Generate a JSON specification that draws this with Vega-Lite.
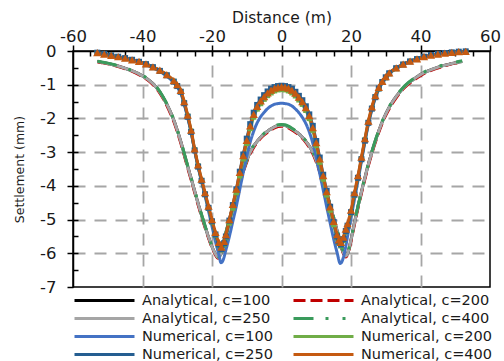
{
"$schema":"https://vega.github.io/schema/vega-lite/v6.json",
"width":417,"height":236,"autosize":"none",
"padding":{"left":73,"top":51,"right":14,"bottom":74},
"background":"white",
"config":{"font":"DejaVu Sans","view":{"stroke":"#000","strokeWidth":1.5},
"axis":{"labelFont":"DejaVu Sans","titleFont":"DejaVu Sans","labelColor":"#1a1a1a","titleColor":"#1a1a1a","titleFontWeight":"normal","domainColor":"#000","tickColor":"#000","domainWidth":1.5,"tickWidth":1.5}},
"data":{"values":[
{"s":"Analytical, c=100","x":-53,"y":-0.31},{"s":"Analytical, c=100","x":-52,"y":-0.33},{"s":"Analytical, c=100","x":-50,"y":-0.37},{"s":"Analytical, c=100","x":-48,"y":-0.42},{"s":"Analytical, c=100","x":-46,"y":-0.48},{"s":"Analytical, c=100","x":-44,"y":-0.55},{"s":"Analytical, c=100","x":-42,"y":-0.63},{"s":"Analytical, c=100","x":-40,"y":-0.74},{"s":"Analytical, c=100","x":-38,"y":-0.88},{"s":"Analytical, c=100","x":-37,"y":-0.97},{"s":"Analytical, c=100","x":-36,"y":-1.08},{"s":"Analytical, c=100","x":-35,"y":-1.22},{"s":"Analytical, c=100","x":-34,"y":-1.39},{"s":"Analytical, c=100","x":-33,"y":-1.58},{"s":"Analytical, c=100","x":-32,"y":-1.8},{"s":"Analytical, c=100","x":-31,"y":-2.05},{"s":"Analytical, c=100","x":-30,"y":-2.35},{"s":"Analytical, c=100","x":-29,"y":-2.68},{"s":"Analytical, c=100","x":-28,"y":-3.05},{"s":"Analytical, c=100","x":-27,"y":-3.42},{"s":"Analytical, c=100","x":-26,"y":-3.78},{"s":"Analytical, c=100","x":-25,"y":-4.15},{"s":"Analytical, c=100","x":-24,"y":-4.52},{"s":"Analytical, c=100","x":-23,"y":-4.87},{"s":"Analytical, c=100","x":-22,"y":-5.2},{"s":"Analytical, c=100","x":-21,"y":-5.52},{"s":"Analytical, c=100","x":-20,"y":-5.8},{"s":"Analytical, c=100","x":-19,"y":-6.02},{"s":"Analytical, c=100","x":-18.3,"y":-6.12},{"s":"Analytical, c=100","x":-17.5,"y":-6.03},{"s":"Analytical, c=100","x":-17,"y":-5.82},{"s":"Analytical, c=100","x":-16,"y":-5.4},{"s":"Analytical, c=100","x":-15,"y":-5.0},{"s":"Analytical, c=100","x":-14,"y":-4.62},{"s":"Analytical, c=100","x":-13,"y":-4.25},{"s":"Analytical, c=100","x":-12,"y":-3.9},{"s":"Analytical, c=100","x":-11,"y":-3.55},{"s":"Analytical, c=100","x":-10,"y":-3.25},{"s":"Analytical, c=100","x":-9,"y":-3.0},{"s":"Analytical, c=100","x":-8,"y":-2.82},{"s":"Analytical, c=100","x":-7,"y":-2.68},{"s":"Analytical, c=100","x":-6,"y":-2.56},{"s":"Analytical, c=100","x":-5,"y":-2.46},{"s":"Analytical, c=100","x":-4,"y":-2.38},{"s":"Analytical, c=100","x":-3,"y":-2.31},{"s":"Analytical, c=100","x":-2,"y":-2.25},{"s":"Analytical, c=100","x":-1,"y":-2.21},{"s":"Analytical, c=100","x":0,"y":-2.2},{"s":"Analytical, c=100","x":1,"y":-2.21},{"s":"Analytical, c=100","x":2,"y":-2.25},{"s":"Analytical, c=100","x":3,"y":-2.31},{"s":"Analytical, c=100","x":4,"y":-2.38},{"s":"Analytical, c=100","x":5,"y":-2.46},{"s":"Analytical, c=100","x":6,"y":-2.56},{"s":"Analytical, c=100","x":7,"y":-2.68},{"s":"Analytical, c=100","x":8,"y":-2.82},{"s":"Analytical, c=100","x":9,"y":-3.0},{"s":"Analytical, c=100","x":10,"y":-3.25},{"s":"Analytical, c=100","x":11,"y":-3.55},{"s":"Analytical, c=100","x":12,"y":-3.88},{"s":"Analytical, c=100","x":13,"y":-4.22},{"s":"Analytical, c=100","x":14,"y":-4.58},{"s":"Analytical, c=100","x":15,"y":-4.95},{"s":"Analytical, c=100","x":16,"y":-5.33},{"s":"Analytical, c=100","x":17,"y":-5.7},{"s":"Analytical, c=100","x":17.8,"y":-5.98},{"s":"Analytical, c=100","x":18.5,"y":-6.08},{"s":"Analytical, c=100","x":19.2,"y":-5.95},{"s":"Analytical, c=100","x":20,"y":-5.6},{"s":"Analytical, c=100","x":21,"y":-5.1},{"s":"Analytical, c=100","x":22,"y":-4.62},{"s":"Analytical, c=100","x":23,"y":-4.18},{"s":"Analytical, c=100","x":24,"y":-3.76},{"s":"Analytical, c=100","x":25,"y":-3.36},{"s":"Analytical, c=100","x":26,"y":-3.0},{"s":"Analytical, c=100","x":27,"y":-2.67},{"s":"Analytical, c=100","x":28,"y":-2.37},{"s":"Analytical, c=100","x":29,"y":-2.1},{"s":"Analytical, c=100","x":30,"y":-1.87},{"s":"Analytical, c=100","x":31,"y":-1.67},{"s":"Analytical, c=100","x":32,"y":-1.5},{"s":"Analytical, c=100","x":33,"y":-1.35},{"s":"Analytical, c=100","x":34,"y":-1.22},{"s":"Analytical, c=100","x":35,"y":-1.1},{"s":"Analytical, c=100","x":36,"y":-1.0},{"s":"Analytical, c=100","x":38,"y":-0.84},{"s":"Analytical, c=100","x":40,"y":-0.7},{"s":"Analytical, c=100","x":42,"y":-0.6},{"s":"Analytical, c=100","x":44,"y":-0.52},{"s":"Analytical, c=100","x":46,"y":-0.45},{"s":"Analytical, c=100","x":48,"y":-0.4},{"s":"Analytical, c=100","x":50,"y":-0.35},{"s":"Analytical, c=100","x":52,"y":-0.31},
{"s":"Analytical, c=200","x":-53,"y":-0.32},{"s":"Analytical, c=200","x":-52,"y":-0.34},{"s":"Analytical, c=200","x":-50,"y":-0.38},{"s":"Analytical, c=200","x":-48,"y":-0.43},{"s":"Analytical, c=200","x":-46,"y":-0.49},{"s":"Analytical, c=200","x":-44,"y":-0.56},{"s":"Analytical, c=200","x":-42,"y":-0.65},{"s":"Analytical, c=200","x":-40,"y":-0.76},{"s":"Analytical, c=200","x":-38,"y":-0.9},{"s":"Analytical, c=200","x":-37,"y":-1.0},{"s":"Analytical, c=200","x":-36,"y":-1.11},{"s":"Analytical, c=200","x":-35,"y":-1.25},{"s":"Analytical, c=200","x":-34,"y":-1.42},{"s":"Analytical, c=200","x":-33,"y":-1.62},{"s":"Analytical, c=200","x":-32,"y":-1.84},{"s":"Analytical, c=200","x":-31,"y":-2.09},{"s":"Analytical, c=200","x":-30,"y":-2.39},{"s":"Analytical, c=200","x":-29,"y":-2.72},{"s":"Analytical, c=200","x":-28,"y":-3.09},{"s":"Analytical, c=200","x":-27,"y":-3.46},{"s":"Analytical, c=200","x":-26,"y":-3.82},{"s":"Analytical, c=200","x":-25,"y":-4.19},{"s":"Analytical, c=200","x":-24,"y":-4.56},{"s":"Analytical, c=200","x":-23,"y":-4.91},{"s":"Analytical, c=200","x":-22,"y":-5.24},{"s":"Analytical, c=200","x":-21,"y":-5.55},{"s":"Analytical, c=200","x":-20,"y":-5.83},{"s":"Analytical, c=200","x":-19,"y":-6.05},{"s":"Analytical, c=200","x":-18.3,"y":-6.15},{"s":"Analytical, c=200","x":-17.5,"y":-6.06},{"s":"Analytical, c=200","x":-17,"y":-5.86},{"s":"Analytical, c=200","x":-16,"y":-5.44},{"s":"Analytical, c=200","x":-15,"y":-5.04},{"s":"Analytical, c=200","x":-14,"y":-4.66},{"s":"Analytical, c=200","x":-13,"y":-4.29},{"s":"Analytical, c=200","x":-12,"y":-3.94},{"s":"Analytical, c=200","x":-11,"y":-3.59},{"s":"Analytical, c=200","x":-10,"y":-3.29},{"s":"Analytical, c=200","x":-9,"y":-3.04},{"s":"Analytical, c=200","x":-8,"y":-2.86},{"s":"Analytical, c=200","x":-7,"y":-2.71},{"s":"Analytical, c=200","x":-6,"y":-2.59},{"s":"Analytical, c=200","x":-5,"y":-2.49},{"s":"Analytical, c=200","x":-4,"y":-2.41},{"s":"Analytical, c=200","x":-3,"y":-2.34},{"s":"Analytical, c=200","x":-2,"y":-2.28},{"s":"Analytical, c=200","x":-1,"y":-2.24},{"s":"Analytical, c=200","x":0,"y":-2.23},{"s":"Analytical, c=200","x":1,"y":-2.24},{"s":"Analytical, c=200","x":2,"y":-2.28},{"s":"Analytical, c=200","x":3,"y":-2.34},{"s":"Analytical, c=200","x":4,"y":-2.41},{"s":"Analytical, c=200","x":5,"y":-2.49},{"s":"Analytical, c=200","x":6,"y":-2.59},{"s":"Analytical, c=200","x":7,"y":-2.71},{"s":"Analytical, c=200","x":8,"y":-2.86},{"s":"Analytical, c=200","x":9,"y":-3.04},{"s":"Analytical, c=200","x":10,"y":-3.29},{"s":"Analytical, c=200","x":11,"y":-3.59},{"s":"Analytical, c=200","x":12,"y":-3.92},{"s":"Analytical, c=200","x":13,"y":-4.26},{"s":"Analytical, c=200","x":14,"y":-4.62},{"s":"Analytical, c=200","x":15,"y":-4.99},{"s":"Analytical, c=200","x":16,"y":-5.37},{"s":"Analytical, c=200","x":17,"y":-5.74},{"s":"Analytical, c=200","x":17.8,"y":-6.01},{"s":"Analytical, c=200","x":18.5,"y":-6.11},{"s":"Analytical, c=200","x":19.2,"y":-5.98},{"s":"Analytical, c=200","x":20,"y":-5.64},{"s":"Analytical, c=200","x":21,"y":-5.14},{"s":"Analytical, c=200","x":22,"y":-4.66},{"s":"Analytical, c=200","x":23,"y":-4.22},{"s":"Analytical, c=200","x":24,"y":-3.8},{"s":"Analytical, c=200","x":25,"y":-3.4},{"s":"Analytical, c=200","x":26,"y":-3.04},{"s":"Analytical, c=200","x":27,"y":-2.71},{"s":"Analytical, c=200","x":28,"y":-2.41},{"s":"Analytical, c=200","x":29,"y":-2.14},{"s":"Analytical, c=200","x":30,"y":-1.91},{"s":"Analytical, c=200","x":31,"y":-1.71},{"s":"Analytical, c=200","x":32,"y":-1.54},{"s":"Analytical, c=200","x":33,"y":-1.39},{"s":"Analytical, c=200","x":34,"y":-1.25},{"s":"Analytical, c=200","x":35,"y":-1.13},{"s":"Analytical, c=200","x":36,"y":-1.03},{"s":"Analytical, c=200","x":38,"y":-0.87},{"s":"Analytical, c=200","x":40,"y":-0.73},{"s":"Analytical, c=200","x":42,"y":-0.62},{"s":"Analytical, c=200","x":44,"y":-0.54},{"s":"Analytical, c=200","x":46,"y":-0.47},{"s":"Analytical, c=200","x":48,"y":-0.41},{"s":"Analytical, c=200","x":50,"y":-0.36},{"s":"Analytical, c=200","x":52,"y":-0.32},
{"s":"Analytical, c=250","x":-53,"y":-0.31},{"s":"Analytical, c=250","x":-52,"y":-0.33},{"s":"Analytical, c=250","x":-50,"y":-0.37},{"s":"Analytical, c=250","x":-48,"y":-0.42},{"s":"Analytical, c=250","x":-46,"y":-0.48},{"s":"Analytical, c=250","x":-44,"y":-0.55},{"s":"Analytical, c=250","x":-42,"y":-0.63},{"s":"Analytical, c=250","x":-40,"y":-0.74},{"s":"Analytical, c=250","x":-38,"y":-0.88},{"s":"Analytical, c=250","x":-37,"y":-0.97},{"s":"Analytical, c=250","x":-36,"y":-1.08},{"s":"Analytical, c=250","x":-35,"y":-1.22},{"s":"Analytical, c=250","x":-34,"y":-1.39},{"s":"Analytical, c=250","x":-33,"y":-1.58},{"s":"Analytical, c=250","x":-32,"y":-1.8},{"s":"Analytical, c=250","x":-31,"y":-2.05},{"s":"Analytical, c=250","x":-30,"y":-2.35},{"s":"Analytical, c=250","x":-29,"y":-2.68},{"s":"Analytical, c=250","x":-28,"y":-3.05},{"s":"Analytical, c=250","x":-27,"y":-3.42},{"s":"Analytical, c=250","x":-26,"y":-3.78},{"s":"Analytical, c=250","x":-25,"y":-4.15},{"s":"Analytical, c=250","x":-24,"y":-4.52},{"s":"Analytical, c=250","x":-23,"y":-4.87},{"s":"Analytical, c=250","x":-22,"y":-5.2},{"s":"Analytical, c=250","x":-21,"y":-5.52},{"s":"Analytical, c=250","x":-20,"y":-5.8},{"s":"Analytical, c=250","x":-19,"y":-6.02},{"s":"Analytical, c=250","x":-18.3,"y":-6.12},{"s":"Analytical, c=250","x":-17.5,"y":-6.03},{"s":"Analytical, c=250","x":-17,"y":-5.82},{"s":"Analytical, c=250","x":-16,"y":-5.4},{"s":"Analytical, c=250","x":-15,"y":-5.0},{"s":"Analytical, c=250","x":-14,"y":-4.62},{"s":"Analytical, c=250","x":-13,"y":-4.25},{"s":"Analytical, c=250","x":-12,"y":-3.9},{"s":"Analytical, c=250","x":-11,"y":-3.55},{"s":"Analytical, c=250","x":-10,"y":-3.25},{"s":"Analytical, c=250","x":-9,"y":-3.0},{"s":"Analytical, c=250","x":-8,"y":-2.82},{"s":"Analytical, c=250","x":-7,"y":-2.68},{"s":"Analytical, c=250","x":-6,"y":-2.56},{"s":"Analytical, c=250","x":-5,"y":-2.46},{"s":"Analytical, c=250","x":-4,"y":-2.38},{"s":"Analytical, c=250","x":-3,"y":-2.31},{"s":"Analytical, c=250","x":-2,"y":-2.25},{"s":"Analytical, c=250","x":-1,"y":-2.21},{"s":"Analytical, c=250","x":0,"y":-2.2},{"s":"Analytical, c=250","x":1,"y":-2.21},{"s":"Analytical, c=250","x":2,"y":-2.25},{"s":"Analytical, c=250","x":3,"y":-2.31},{"s":"Analytical, c=250","x":4,"y":-2.38},{"s":"Analytical, c=250","x":5,"y":-2.46},{"s":"Analytical, c=250","x":6,"y":-2.56},{"s":"Analytical, c=250","x":7,"y":-2.68},{"s":"Analytical, c=250","x":8,"y":-2.82},{"s":"Analytical, c=250","x":9,"y":-3.0},{"s":"Analytical, c=250","x":10,"y":-3.25},{"s":"Analytical, c=250","x":11,"y":-3.55},{"s":"Analytical, c=250","x":12,"y":-3.88},{"s":"Analytical, c=250","x":13,"y":-4.22},{"s":"Analytical, c=250","x":14,"y":-4.58},{"s":"Analytical, c=250","x":15,"y":-4.95},{"s":"Analytical, c=250","x":16,"y":-5.33},{"s":"Analytical, c=250","x":17,"y":-5.7},{"s":"Analytical, c=250","x":17.8,"y":-5.98},{"s":"Analytical, c=250","x":18.5,"y":-6.08},{"s":"Analytical, c=250","x":19.2,"y":-5.95},{"s":"Analytical, c=250","x":20,"y":-5.6},{"s":"Analytical, c=250","x":21,"y":-5.1},{"s":"Analytical, c=250","x":22,"y":-4.62},{"s":"Analytical, c=250","x":23,"y":-4.18},{"s":"Analytical, c=250","x":24,"y":-3.76},{"s":"Analytical, c=250","x":25,"y":-3.36},{"s":"Analytical, c=250","x":26,"y":-3.0},{"s":"Analytical, c=250","x":27,"y":-2.67},{"s":"Analytical, c=250","x":28,"y":-2.37},{"s":"Analytical, c=250","x":29,"y":-2.1},{"s":"Analytical, c=250","x":30,"y":-1.87},{"s":"Analytical, c=250","x":31,"y":-1.67},{"s":"Analytical, c=250","x":32,"y":-1.5},{"s":"Analytical, c=250","x":33,"y":-1.35},{"s":"Analytical, c=250","x":34,"y":-1.22},{"s":"Analytical, c=250","x":35,"y":-1.1},{"s":"Analytical, c=250","x":36,"y":-1.0},{"s":"Analytical, c=250","x":38,"y":-0.84},{"s":"Analytical, c=250","x":40,"y":-0.7},{"s":"Analytical, c=250","x":42,"y":-0.6},{"s":"Analytical, c=250","x":44,"y":-0.52},{"s":"Analytical, c=250","x":46,"y":-0.45},{"s":"Analytical, c=250","x":48,"y":-0.4},{"s":"Analytical, c=250","x":50,"y":-0.35},{"s":"Analytical, c=250","x":52,"y":-0.31},
{"s":"Analytical, c=400","x":-53,"y":-0.3},{"s":"Analytical, c=400","x":-52,"y":-0.32},{"s":"Analytical, c=400","x":-50,"y":-0.36},{"s":"Analytical, c=400","x":-48,"y":-0.41},{"s":"Analytical, c=400","x":-46,"y":-0.47},{"s":"Analytical, c=400","x":-44,"y":-0.54},{"s":"Analytical, c=400","x":-42,"y":-0.62},{"s":"Analytical, c=400","x":-40,"y":-0.72},{"s":"Analytical, c=400","x":-38,"y":-0.86},{"s":"Analytical, c=400","x":-37,"y":-0.95},{"s":"Analytical, c=400","x":-36,"y":-1.06},{"s":"Analytical, c=400","x":-35,"y":-1.2},{"s":"Analytical, c=400","x":-34,"y":-1.37},{"s":"Analytical, c=400","x":-33,"y":-1.56},{"s":"Analytical, c=400","x":-32,"y":-1.78},{"s":"Analytical, c=400","x":-31,"y":-2.03},{"s":"Analytical, c=400","x":-30,"y":-2.33},{"s":"Analytical, c=400","x":-29,"y":-2.66},{"s":"Analytical, c=400","x":-28,"y":-3.03},{"s":"Analytical, c=400","x":-27,"y":-3.4},{"s":"Analytical, c=400","x":-26,"y":-3.76},{"s":"Analytical, c=400","x":-25,"y":-4.13},{"s":"Analytical, c=400","x":-24,"y":-4.5},{"s":"Analytical, c=400","x":-23,"y":-4.85},{"s":"Analytical, c=400","x":-22,"y":-5.18},{"s":"Analytical, c=400","x":-21,"y":-5.5},{"s":"Analytical, c=400","x":-20,"y":-5.78},{"s":"Analytical, c=400","x":-19,"y":-6.0},{"s":"Analytical, c=400","x":-18.3,"y":-6.1},{"s":"Analytical, c=400","x":-17.5,"y":-6.01},{"s":"Analytical, c=400","x":-17,"y":-5.8},{"s":"Analytical, c=400","x":-16,"y":-5.38},{"s":"Analytical, c=400","x":-15,"y":-4.98},{"s":"Analytical, c=400","x":-14,"y":-4.6},{"s":"Analytical, c=400","x":-13,"y":-4.23},{"s":"Analytical, c=400","x":-12,"y":-3.88},{"s":"Analytical, c=400","x":-11,"y":-3.53},{"s":"Analytical, c=400","x":-10,"y":-3.23},{"s":"Analytical, c=400","x":-9,"y":-2.98},{"s":"Analytical, c=400","x":-8,"y":-2.8},{"s":"Analytical, c=400","x":-7,"y":-2.66},{"s":"Analytical, c=400","x":-6,"y":-2.54},{"s":"Analytical, c=400","x":-5,"y":-2.44},{"s":"Analytical, c=400","x":-4,"y":-2.36},{"s":"Analytical, c=400","x":-3,"y":-2.29},{"s":"Analytical, c=400","x":-2,"y":-2.23},{"s":"Analytical, c=400","x":-1,"y":-2.19},{"s":"Analytical, c=400","x":0,"y":-2.18},{"s":"Analytical, c=400","x":1,"y":-2.19},{"s":"Analytical, c=400","x":2,"y":-2.23},{"s":"Analytical, c=400","x":3,"y":-2.29},{"s":"Analytical, c=400","x":4,"y":-2.36},{"s":"Analytical, c=400","x":5,"y":-2.44},{"s":"Analytical, c=400","x":6,"y":-2.54},{"s":"Analytical, c=400","x":7,"y":-2.66},{"s":"Analytical, c=400","x":8,"y":-2.8},{"s":"Analytical, c=400","x":9,"y":-2.98},{"s":"Analytical, c=400","x":10,"y":-3.23},{"s":"Analytical, c=400","x":11,"y":-3.53},{"s":"Analytical, c=400","x":12,"y":-3.86},{"s":"Analytical, c=400","x":13,"y":-4.2},{"s":"Analytical, c=400","x":14,"y":-4.56},{"s":"Analytical, c=400","x":15,"y":-4.93},{"s":"Analytical, c=400","x":16,"y":-5.31},{"s":"Analytical, c=400","x":17,"y":-5.68},{"s":"Analytical, c=400","x":17.8,"y":-5.96},{"s":"Analytical, c=400","x":18.5,"y":-6.06},{"s":"Analytical, c=400","x":19.2,"y":-5.93},{"s":"Analytical, c=400","x":20,"y":-5.58},{"s":"Analytical, c=400","x":21,"y":-5.08},{"s":"Analytical, c=400","x":22,"y":-4.6},{"s":"Analytical, c=400","x":23,"y":-4.16},{"s":"Analytical, c=400","x":24,"y":-3.74},{"s":"Analytical, c=400","x":25,"y":-3.34},{"s":"Analytical, c=400","x":26,"y":-2.98},{"s":"Analytical, c=400","x":27,"y":-2.65},{"s":"Analytical, c=400","x":28,"y":-2.35},{"s":"Analytical, c=400","x":29,"y":-2.08},{"s":"Analytical, c=400","x":30,"y":-1.85},{"s":"Analytical, c=400","x":31,"y":-1.65},{"s":"Analytical, c=400","x":32,"y":-1.48},{"s":"Analytical, c=400","x":33,"y":-1.33},{"s":"Analytical, c=400","x":34,"y":-1.2},{"s":"Analytical, c=400","x":35,"y":-1.08},{"s":"Analytical, c=400","x":36,"y":-0.98},{"s":"Analytical, c=400","x":38,"y":-0.82},{"s":"Analytical, c=400","x":40,"y":-0.68},{"s":"Analytical, c=400","x":42,"y":-0.58},{"s":"Analytical, c=400","x":44,"y":-0.5},{"s":"Analytical, c=400","x":46,"y":-0.43},{"s":"Analytical, c=400","x":48,"y":-0.38},{"s":"Analytical, c=400","x":50,"y":-0.33},{"s":"Analytical, c=400","x":52,"y":-0.29},
{"s":"Numerical, c=100","x":-53,"y":-0.06},{"s":"Numerical, c=100","x":-51,"y":-0.1},{"s":"Numerical, c=100","x":-49,"y":-0.14},{"s":"Numerical, c=100","x":-47,"y":-0.18},{"s":"Numerical, c=100","x":-45,"y":-0.23},{"s":"Numerical, c=100","x":-43,"y":-0.28},{"s":"Numerical, c=100","x":-41,"y":-0.34},{"s":"Numerical, c=100","x":-39,"y":-0.41},{"s":"Numerical, c=100","x":-37,"y":-0.5},{"s":"Numerical, c=100","x":-35,"y":-0.61},{"s":"Numerical, c=100","x":-33,"y":-0.75},{"s":"Numerical, c=100","x":-31,"y":-0.94},{"s":"Numerical, c=100","x":-30,"y":-1.07},{"s":"Numerical, c=100","x":-29,"y":-1.25},{"s":"Numerical, c=100","x":-28,"y":-1.58},{"s":"Numerical, c=100","x":-27,"y":-1.98},{"s":"Numerical, c=100","x":-26,"y":-2.42},{"s":"Numerical, c=100","x":-25,"y":-2.95},{"s":"Numerical, c=100","x":-24,"y":-3.43},{"s":"Numerical, c=100","x":-23,"y":-3.87},{"s":"Numerical, c=100","x":-22,"y":-4.3},{"s":"Numerical, c=100","x":-21,"y":-4.75},{"s":"Numerical, c=100","x":-20,"y":-5.2},{"s":"Numerical, c=100","x":-19,"y":-5.65},{"s":"Numerical, c=100","x":-18,"y":-6.05},{"s":"Numerical, c=100","x":-17.4,"y":-6.28},{"s":"Numerical, c=100","x":-16.8,"y":-6.2},{"s":"Numerical, c=100","x":-16,"y":-5.9},{"s":"Numerical, c=100","x":-15,"y":-5.5},{"s":"Numerical, c=100","x":-14,"y":-5.05},{"s":"Numerical, c=100","x":-13,"y":-4.6},{"s":"Numerical, c=100","x":-12,"y":-4.1},{"s":"Numerical, c=100","x":-11,"y":-3.6},{"s":"Numerical, c=100","x":-10,"y":-3.12},{"s":"Numerical, c=100","x":-9,"y":-2.7},{"s":"Numerical, c=100","x":-8,"y":-2.38},{"s":"Numerical, c=100","x":-7,"y":-2.13},{"s":"Numerical, c=100","x":-6,"y":-1.95},{"s":"Numerical, c=100","x":-5,"y":-1.82},{"s":"Numerical, c=100","x":-4,"y":-1.71},{"s":"Numerical, c=100","x":-3,"y":-1.63},{"s":"Numerical, c=100","x":-2,"y":-1.58},{"s":"Numerical, c=100","x":-1,"y":-1.56},{"s":"Numerical, c=100","x":0,"y":-1.55},{"s":"Numerical, c=100","x":1,"y":-1.56},{"s":"Numerical, c=100","x":2,"y":-1.58},{"s":"Numerical, c=100","x":3,"y":-1.63},{"s":"Numerical, c=100","x":4,"y":-1.72},{"s":"Numerical, c=100","x":5,"y":-1.83},{"s":"Numerical, c=100","x":6,"y":-1.97},{"s":"Numerical, c=100","x":7,"y":-2.15},{"s":"Numerical, c=100","x":8,"y":-2.4},{"s":"Numerical, c=100","x":9,"y":-2.73},{"s":"Numerical, c=100","x":10,"y":-3.15},{"s":"Numerical, c=100","x":11,"y":-3.63},{"s":"Numerical, c=100","x":12,"y":-4.12},{"s":"Numerical, c=100","x":13,"y":-4.62},{"s":"Numerical, c=100","x":14,"y":-5.1},{"s":"Numerical, c=100","x":15,"y":-5.57},{"s":"Numerical, c=100","x":16,"y":-5.98},{"s":"Numerical, c=100","x":16.9,"y":-6.3},{"s":"Numerical, c=100","x":17.5,"y":-6.22},{"s":"Numerical, c=100","x":18.2,"y":-5.95},{"s":"Numerical, c=100","x":19,"y":-5.5},{"s":"Numerical, c=100","x":20,"y":-4.95},{"s":"Numerical, c=100","x":21,"y":-4.4},{"s":"Numerical, c=100","x":22,"y":-3.85},{"s":"Numerical, c=100","x":23,"y":-3.28},{"s":"Numerical, c=100","x":24,"y":-2.7},{"s":"Numerical, c=100","x":25,"y":-2.18},{"s":"Numerical, c=100","x":26,"y":-1.75},{"s":"Numerical, c=100","x":27,"y":-1.4},{"s":"Numerical, c=100","x":28,"y":-1.14},{"s":"Numerical, c=100","x":29,"y":-0.95},{"s":"Numerical, c=100","x":30,"y":-0.8},{"s":"Numerical, c=100","x":31,"y":-0.68},{"s":"Numerical, c=100","x":33,"y":-0.52},{"s":"Numerical, c=100","x":35,"y":-0.41},{"s":"Numerical, c=100","x":37,"y":-0.32},{"s":"Numerical, c=100","x":39,"y":-0.25},{"s":"Numerical, c=100","x":41,"y":-0.19},{"s":"Numerical, c=100","x":43,"y":-0.14},{"s":"Numerical, c=100","x":45,"y":-0.1},{"s":"Numerical, c=100","x":47,"y":-0.07},{"s":"Numerical, c=100","x":49,"y":-0.05},{"s":"Numerical, c=100","x":51,"y":-0.03},{"s":"Numerical, c=100","x":53,"y":-0.02},
{"s":"Numerical, c=200","x":-53,"y":-0.05},{"s":"Numerical, c=200","x":-51,"y":-0.09},{"s":"Numerical, c=200","x":-49,"y":-0.13},{"s":"Numerical, c=200","x":-47,"y":-0.17},{"s":"Numerical, c=200","x":-45,"y":-0.22},{"s":"Numerical, c=200","x":-43,"y":-0.27},{"s":"Numerical, c=200","x":-41,"y":-0.32},{"s":"Numerical, c=200","x":-39,"y":-0.39},{"s":"Numerical, c=200","x":-37,"y":-0.48},{"s":"Numerical, c=200","x":-35,"y":-0.59},{"s":"Numerical, c=200","x":-33,"y":-0.72},{"s":"Numerical, c=200","x":-31,"y":-0.9},{"s":"Numerical, c=200","x":-30,"y":-1.03},{"s":"Numerical, c=200","x":-29,"y":-1.2},{"s":"Numerical, c=200","x":-28,"y":-1.53},{"s":"Numerical, c=200","x":-27,"y":-1.93},{"s":"Numerical, c=200","x":-26,"y":-2.38},{"s":"Numerical, c=200","x":-25,"y":-2.93},{"s":"Numerical, c=200","x":-24,"y":-3.41},{"s":"Numerical, c=200","x":-23,"y":-3.84},{"s":"Numerical, c=200","x":-22,"y":-4.25},{"s":"Numerical, c=200","x":-21,"y":-4.66},{"s":"Numerical, c=200","x":-20,"y":-5.07},{"s":"Numerical, c=200","x":-19,"y":-5.46},{"s":"Numerical, c=200","x":-18,"y":-5.77},{"s":"Numerical, c=200","x":-17.3,"y":-5.9},{"s":"Numerical, c=200","x":-16.5,"y":-5.74},{"s":"Numerical, c=200","x":-16,"y":-5.54},{"s":"Numerical, c=200","x":-15,"y":-5.1},{"s":"Numerical, c=200","x":-14,"y":-4.66},{"s":"Numerical, c=200","x":-13,"y":-4.2},{"s":"Numerical, c=200","x":-12,"y":-3.7},{"s":"Numerical, c=200","x":-11,"y":-3.2},{"s":"Numerical, c=200","x":-10,"y":-2.74},{"s":"Numerical, c=200","x":-9,"y":-2.3},{"s":"Numerical, c=200","x":-8,"y":-1.96},{"s":"Numerical, c=200","x":-7,"y":-1.72},{"s":"Numerical, c=200","x":-6,"y":-1.56},{"s":"Numerical, c=200","x":-5,"y":-1.43},{"s":"Numerical, c=200","x":-4,"y":-1.32},{"s":"Numerical, c=200","x":-3,"y":-1.24},{"s":"Numerical, c=200","x":-2,"y":-1.18},{"s":"Numerical, c=200","x":-1,"y":-1.15},{"s":"Numerical, c=200","x":0,"y":-1.14},{"s":"Numerical, c=200","x":1,"y":-1.15},{"s":"Numerical, c=200","x":2,"y":-1.18},{"s":"Numerical, c=200","x":3,"y":-1.24},{"s":"Numerical, c=200","x":4,"y":-1.33},{"s":"Numerical, c=200","x":5,"y":-1.45},{"s":"Numerical, c=200","x":6,"y":-1.58},{"s":"Numerical, c=200","x":7,"y":-1.76},{"s":"Numerical, c=200","x":8,"y":-2.0},{"s":"Numerical, c=200","x":9,"y":-2.35},{"s":"Numerical, c=200","x":10,"y":-2.8},{"s":"Numerical, c=200","x":11,"y":-3.3},{"s":"Numerical, c=200","x":12,"y":-3.8},{"s":"Numerical, c=200","x":13,"y":-4.27},{"s":"Numerical, c=200","x":14,"y":-4.72},{"s":"Numerical, c=200","x":15,"y":-5.15},{"s":"Numerical, c=200","x":16,"y":-5.55},{"s":"Numerical, c=200","x":16.5,"y":-5.7},{"s":"Numerical, c=200","x":17.1,"y":-5.78},{"s":"Numerical, c=200","x":17.8,"y":-5.62},{"s":"Numerical, c=200","x":18.5,"y":-5.36},{"s":"Numerical, c=200","x":19,"y":-5.2},{"s":"Numerical, c=200","x":20,"y":-4.8},{"s":"Numerical, c=200","x":21,"y":-4.27},{"s":"Numerical, c=200","x":22,"y":-3.76},{"s":"Numerical, c=200","x":23,"y":-3.2},{"s":"Numerical, c=200","x":24,"y":-2.64},{"s":"Numerical, c=200","x":25,"y":-2.12},{"s":"Numerical, c=200","x":26,"y":-1.7},{"s":"Numerical, c=200","x":27,"y":-1.36},{"s":"Numerical, c=200","x":28,"y":-1.12},{"s":"Numerical, c=200","x":29,"y":-0.93},{"s":"Numerical, c=200","x":30,"y":-0.79},{"s":"Numerical, c=200","x":31,"y":-0.67},{"s":"Numerical, c=200","x":33,"y":-0.52},{"s":"Numerical, c=200","x":35,"y":-0.4},{"s":"Numerical, c=200","x":37,"y":-0.31},{"s":"Numerical, c=200","x":39,"y":-0.24},{"s":"Numerical, c=200","x":41,"y":-0.18},{"s":"Numerical, c=200","x":43,"y":-0.13},{"s":"Numerical, c=200","x":45,"y":-0.09},{"s":"Numerical, c=200","x":47,"y":-0.07},{"s":"Numerical, c=200","x":49,"y":-0.05},{"s":"Numerical, c=200","x":51,"y":-0.03},{"s":"Numerical, c=200","x":53,"y":-0.02},
{"s":"Numerical, c=250","x":-53,"y":-0.05},{"s":"Numerical, c=250","x":-51,"y":-0.09},{"s":"Numerical, c=250","x":-49,"y":-0.13},{"s":"Numerical, c=250","x":-47,"y":-0.17},{"s":"Numerical, c=250","x":-45,"y":-0.21},{"s":"Numerical, c=250","x":-43,"y":-0.26},{"s":"Numerical, c=250","x":-41,"y":-0.32},{"s":"Numerical, c=250","x":-39,"y":-0.39},{"s":"Numerical, c=250","x":-37,"y":-0.48},{"s":"Numerical, c=250","x":-35,"y":-0.59},{"s":"Numerical, c=250","x":-33,"y":-0.72},{"s":"Numerical, c=250","x":-31,"y":-0.91},{"s":"Numerical, c=250","x":-30,"y":-1.04},{"s":"Numerical, c=250","x":-29,"y":-1.21},{"s":"Numerical, c=250","x":-28,"y":-1.55},{"s":"Numerical, c=250","x":-27,"y":-1.95},{"s":"Numerical, c=250","x":-26,"y":-2.4},{"s":"Numerical, c=250","x":-25,"y":-2.95},{"s":"Numerical, c=250","x":-24,"y":-3.43},{"s":"Numerical, c=250","x":-23,"y":-3.85},{"s":"Numerical, c=250","x":-22,"y":-4.25},{"s":"Numerical, c=250","x":-21,"y":-4.65},{"s":"Numerical, c=250","x":-20,"y":-5.05},{"s":"Numerical, c=250","x":-19,"y":-5.44},{"s":"Numerical, c=250","x":-18,"y":-5.74},{"s":"Numerical, c=250","x":-17.3,"y":-5.88},{"s":"Numerical, c=250","x":-16.5,"y":-5.7},{"s":"Numerical, c=250","x":-16,"y":-5.5},{"s":"Numerical, c=250","x":-15,"y":-5.03},{"s":"Numerical, c=250","x":-14,"y":-4.57},{"s":"Numerical, c=250","x":-13,"y":-4.1},{"s":"Numerical, c=250","x":-12,"y":-3.58},{"s":"Numerical, c=250","x":-11,"y":-3.07},{"s":"Numerical, c=250","x":-10,"y":-2.6},{"s":"Numerical, c=250","x":-9,"y":-2.17},{"s":"Numerical, c=250","x":-8,"y":-1.83},{"s":"Numerical, c=250","x":-7,"y":-1.6},{"s":"Numerical, c=250","x":-6,"y":-1.44},{"s":"Numerical, c=250","x":-5,"y":-1.31},{"s":"Numerical, c=250","x":-4,"y":-1.2},{"s":"Numerical, c=250","x":-3,"y":-1.12},{"s":"Numerical, c=250","x":-2,"y":-1.07},{"s":"Numerical, c=250","x":-1,"y":-1.04},{"s":"Numerical, c=250","x":0,"y":-1.03},{"s":"Numerical, c=250","x":1,"y":-1.04},{"s":"Numerical, c=250","x":2,"y":-1.07},{"s":"Numerical, c=250","x":3,"y":-1.12},{"s":"Numerical, c=250","x":4,"y":-1.21},{"s":"Numerical, c=250","x":5,"y":-1.33},{"s":"Numerical, c=250","x":6,"y":-1.46},{"s":"Numerical, c=250","x":7,"y":-1.64},{"s":"Numerical, c=250","x":8,"y":-1.88},{"s":"Numerical, c=250","x":9,"y":-2.22},{"s":"Numerical, c=250","x":10,"y":-2.67},{"s":"Numerical, c=250","x":11,"y":-3.16},{"s":"Numerical, c=250","x":12,"y":-3.67},{"s":"Numerical, c=250","x":13,"y":-4.15},{"s":"Numerical, c=250","x":14,"y":-4.62},{"s":"Numerical, c=250","x":15,"y":-5.07},{"s":"Numerical, c=250","x":16,"y":-5.5},{"s":"Numerical, c=250","x":16.5,"y":-5.65},{"s":"Numerical, c=250","x":17.1,"y":-5.74},{"s":"Numerical, c=250","x":17.8,"y":-5.58},{"s":"Numerical, c=250","x":18.5,"y":-5.34},{"s":"Numerical, c=250","x":19,"y":-5.18},{"s":"Numerical, c=250","x":20,"y":-4.78},{"s":"Numerical, c=250","x":21,"y":-4.26},{"s":"Numerical, c=250","x":22,"y":-3.76},{"s":"Numerical, c=250","x":23,"y":-3.21},{"s":"Numerical, c=250","x":24,"y":-2.66},{"s":"Numerical, c=250","x":25,"y":-2.13},{"s":"Numerical, c=250","x":26,"y":-1.71},{"s":"Numerical, c=250","x":27,"y":-1.37},{"s":"Numerical, c=250","x":28,"y":-1.11},{"s":"Numerical, c=250","x":29,"y":-0.92},{"s":"Numerical, c=250","x":30,"y":-0.78},{"s":"Numerical, c=250","x":31,"y":-0.66},{"s":"Numerical, c=250","x":33,"y":-0.51},{"s":"Numerical, c=250","x":35,"y":-0.4},{"s":"Numerical, c=250","x":37,"y":-0.31},{"s":"Numerical, c=250","x":39,"y":-0.24},{"s":"Numerical, c=250","x":41,"y":-0.17},{"s":"Numerical, c=250","x":43,"y":-0.12},{"s":"Numerical, c=250","x":45,"y":-0.09},{"s":"Numerical, c=250","x":47,"y":-0.06},{"s":"Numerical, c=250","x":49,"y":-0.04},{"s":"Numerical, c=250","x":51,"y":-0.02},{"s":"Numerical, c=250","x":53,"y":-0.01},
{"s":"Numerical, c=400","x":-53,"y":-0.05},{"s":"Numerical, c=400","x":-51,"y":-0.09},{"s":"Numerical, c=400","x":-49,"y":-0.13},{"s":"Numerical, c=400","x":-47,"y":-0.17},{"s":"Numerical, c=400","x":-45,"y":-0.21},{"s":"Numerical, c=400","x":-43,"y":-0.26},{"s":"Numerical, c=400","x":-41,"y":-0.31},{"s":"Numerical, c=400","x":-39,"y":-0.38},{"s":"Numerical, c=400","x":-37,"y":-0.47},{"s":"Numerical, c=400","x":-35,"y":-0.57},{"s":"Numerical, c=400","x":-33,"y":-0.7},{"s":"Numerical, c=400","x":-31,"y":-0.88},{"s":"Numerical, c=400","x":-30,"y":-1.0},{"s":"Numerical, c=400","x":-29,"y":-1.17},{"s":"Numerical, c=400","x":-28,"y":-1.5},{"s":"Numerical, c=400","x":-27,"y":-1.9},{"s":"Numerical, c=400","x":-26,"y":-2.35},{"s":"Numerical, c=400","x":-25,"y":-2.9},{"s":"Numerical, c=400","x":-24,"y":-3.38},{"s":"Numerical, c=400","x":-23,"y":-3.8},{"s":"Numerical, c=400","x":-22,"y":-4.2},{"s":"Numerical, c=400","x":-21,"y":-4.6},{"s":"Numerical, c=400","x":-20,"y":-5.0},{"s":"Numerical, c=400","x":-19,"y":-5.38},{"s":"Numerical, c=400","x":-18,"y":-5.68},{"s":"Numerical, c=400","x":-17.3,"y":-5.82},{"s":"Numerical, c=400","x":-16.5,"y":-5.65},{"s":"Numerical, c=400","x":-16,"y":-5.45},{"s":"Numerical, c=400","x":-15,"y":-5.0},{"s":"Numerical, c=400","x":-14,"y":-4.55},{"s":"Numerical, c=400","x":-13,"y":-4.1},{"s":"Numerical, c=400","x":-12,"y":-3.6},{"s":"Numerical, c=400","x":-11,"y":-3.1},{"s":"Numerical, c=400","x":-10,"y":-2.65},{"s":"Numerical, c=400","x":-9,"y":-2.22},{"s":"Numerical, c=400","x":-8,"y":-1.88},{"s":"Numerical, c=400","x":-7,"y":-1.64},{"s":"Numerical, c=400","x":-6,"y":-1.48},{"s":"Numerical, c=400","x":-5,"y":-1.35},{"s":"Numerical, c=400","x":-4,"y":-1.24},{"s":"Numerical, c=400","x":-3,"y":-1.16},{"s":"Numerical, c=400","x":-2,"y":-1.1},{"s":"Numerical, c=400","x":-1,"y":-1.07},{"s":"Numerical, c=400","x":0,"y":-1.06},{"s":"Numerical, c=400","x":1,"y":-1.07},{"s":"Numerical, c=400","x":2,"y":-1.1},{"s":"Numerical, c=400","x":3,"y":-1.16},{"s":"Numerical, c=400","x":4,"y":-1.25},{"s":"Numerical, c=400","x":5,"y":-1.37},{"s":"Numerical, c=400","x":6,"y":-1.5},{"s":"Numerical, c=400","x":7,"y":-1.68},{"s":"Numerical, c=400","x":8,"y":-1.92},{"s":"Numerical, c=400","x":9,"y":-2.27},{"s":"Numerical, c=400","x":10,"y":-2.72},{"s":"Numerical, c=400","x":11,"y":-3.2},{"s":"Numerical, c=400","x":12,"y":-3.7},{"s":"Numerical, c=400","x":13,"y":-4.17},{"s":"Numerical, c=400","x":14,"y":-4.62},{"s":"Numerical, c=400","x":15,"y":-5.05},{"s":"Numerical, c=400","x":16,"y":-5.45},{"s":"Numerical, c=400","x":16.5,"y":-5.6},{"s":"Numerical, c=400","x":17.1,"y":-5.68},{"s":"Numerical, c=400","x":17.8,"y":-5.52},{"s":"Numerical, c=400","x":18.5,"y":-5.28},{"s":"Numerical, c=400","x":19,"y":-5.12},{"s":"Numerical, c=400","x":20,"y":-4.72},{"s":"Numerical, c=400","x":21,"y":-4.2},{"s":"Numerical, c=400","x":22,"y":-3.7},{"s":"Numerical, c=400","x":23,"y":-3.15},{"s":"Numerical, c=400","x":24,"y":-2.6},{"s":"Numerical, c=400","x":25,"y":-2.08},{"s":"Numerical, c=400","x":26,"y":-1.66},{"s":"Numerical, c=400","x":27,"y":-1.32},{"s":"Numerical, c=400","x":28,"y":-1.08},{"s":"Numerical, c=400","x":29,"y":-0.9},{"s":"Numerical, c=400","x":30,"y":-0.76},{"s":"Numerical, c=400","x":31,"y":-0.65},{"s":"Numerical, c=400","x":33,"y":-0.5},{"s":"Numerical, c=400","x":35,"y":-0.39},{"s":"Numerical, c=400","x":37,"y":-0.3},{"s":"Numerical, c=400","x":39,"y":-0.23},{"s":"Numerical, c=400","x":41,"y":-0.17},{"s":"Numerical, c=400","x":43,"y":-0.12},{"s":"Numerical, c=400","x":45,"y":-0.09},{"s":"Numerical, c=400","x":47,"y":-0.06},{"s":"Numerical, c=400","x":49,"y":-0.04},{"s":"Numerical, c=400","x":51,"y":-0.02},{"s":"Numerical, c=400","x":53,"y":-0.01}
]},
"layer":[
{"mark":{"type":"line","interpolate":"monotone","strokeCap":"butt"},
 "encoding":{
  "x":{"field":"x","type":"quantitative","scale":{"domain":[-60,60],"nice":false,"zero":false},
   "axis":{"orient":"top","values":[-60,-40,-20,0,20,40,60],"labelExpr":"'' + datum.value","title":"Distance (m)","titleFontSize":15.5,"labelFontSize":16.5,"tickSize":6,"labelPadding":1,"titlePadding":3,"grid":false,"labelFlush":false}},
  "y":{"field":"y","type":"quantitative","scale":{"domain":[-7,0],"nice":false,"zero":false},
   "axis":{"orient":"left","values":[-7,-6,-5,-4,-3,-2,-1,0],"labelExpr":"'' + datum.value","title":"Settlement (mm)","titleFontSize":12.5,"labelFontSize":16.5,"tickSize":6,"labelPadding":11,"titlePadding":13,"grid":false,"labelFlush":false}},
  "color":{"field":"s","type":"nominal","scale":{"domain":["Analytical, c=100","Analytical, c=200","Analytical, c=250","Analytical, c=400","Numerical, c=100","Numerical, c=200","Numerical, c=250","Numerical, c=400"],"range":["#000000","#c00000","#a5a5a5","#3a9b5c","#4472c4","#70ad47","#255e91","#c55a11"]},
   "legend":{"title":null,"orient":"none","legendX":24,"legendY":242,"direction":"horizontal","columns":2,"symbolType":"M-5,0L5,0","symbolSize":144,"symbolStrokeWidth":3,"labelFont":"DejaVu Sans","labelFontSize":14.5,"labelColor":"#1a1a1a","labelOffset":30,"columnPadding":14,"rowPadding":3,"labelLimit":300}},
  "strokeDash":{"field":"s","type":"nominal","scale":{"domain":["Analytical, c=100","Analytical, c=200","Analytical, c=250","Analytical, c=400","Numerical, c=100","Numerical, c=200","Numerical, c=250","Numerical, c=400"],"range":[[1,0],[12,5],[1,0],[20,12,3,14,3,14],[1,0],[1,0],[1,0],[1,0]]},
   "legend":{"title":null,"orient":"none","legendX":24,"legendY":242,"direction":"horizontal","columns":2,"symbolType":"M-5,0L5,0","symbolSize":144,"symbolStrokeWidth":3,"labelFont":"DejaVu Sans","labelFontSize":14.5,"labelColor":"#1a1a1a","labelOffset":30,"columnPadding":14,"rowPadding":3,"labelLimit":300}},
  "strokeWidth":{"field":"s","type":"nominal","scale":{"domain":["Analytical, c=100","Analytical, c=200","Analytical, c=250","Analytical, c=400","Numerical, c=100","Numerical, c=200","Numerical, c=250","Numerical, c=400"],"range":[3,3,3.5,3,2.5,3,4,5]},"legend":null}
 }},
{"transform":[{"filter":"datum.s === 'Numerical, c=200'"}],
 "mark":{"type":"point","shape":"square","filled":true,"size":28,"color":"#70ad47","opacity":1},
 "encoding":{
  "x":{"field":"x","type":"quantitative","axis":{"orient":"top","values":[-40,-20,0,20,40],"grid":true,"gridDash":[12,9],"gridColor":"#a6a6a6","gridWidth":1.8,"ticks":false,"labels":false,"domain":false,"title":null}},
  "y":{"field":"y","type":"quantitative","axis":{"orient":"left","values":[-6,-5,-4,-3,-2,-1],"grid":true,"gridDash":[12,9],"gridColor":"#a6a6a6","gridWidth":1.8,"ticks":false,"labels":false,"domain":false,"title":null}}
 }},
{"transform":[{"filter":"datum.s === 'Numerical, c=250'"}],
 "mark":{"type":"point","shape":"square","filled":true,"size":36,"color":"#255e91","opacity":1},
 "encoding":{
  "x":{"field":"x","type":"quantitative","axis":null},
  "y":{"field":"y","type":"quantitative","axis":null}
 }},
{"transform":[{"filter":"datum.s === 'Numerical, c=400'"}],
 "mark":{"type":"point","shape":"triangle-up","filled":true,"size":70,"color":"#c55a11","opacity":1},
 "encoding":{
  "x":{"field":"x","type":"quantitative","axis":{"orient":"top","values":[-55,-50,-45,-40,-35,-30,-25,-20,-15,-10,-5,0,5,10,15,20,25,30,35,40,45,50,55],"tickSize":-5,"labels":false,"domain":false,"grid":false,"title":null}},
  "y":{"field":"y","type":"quantitative","axis":{"orient":"left","values":[-6.5,-6,-5.5,-5,-4.5,-4,-3.5,-3,-2.5,-2,-1.5,-1,-0.5],"tickSize":-5,"labels":false,"domain":false,"grid":false,"title":null}}
 }}
],
"resolve":{"axis":{"x":"independent","y":"independent"}}
}
